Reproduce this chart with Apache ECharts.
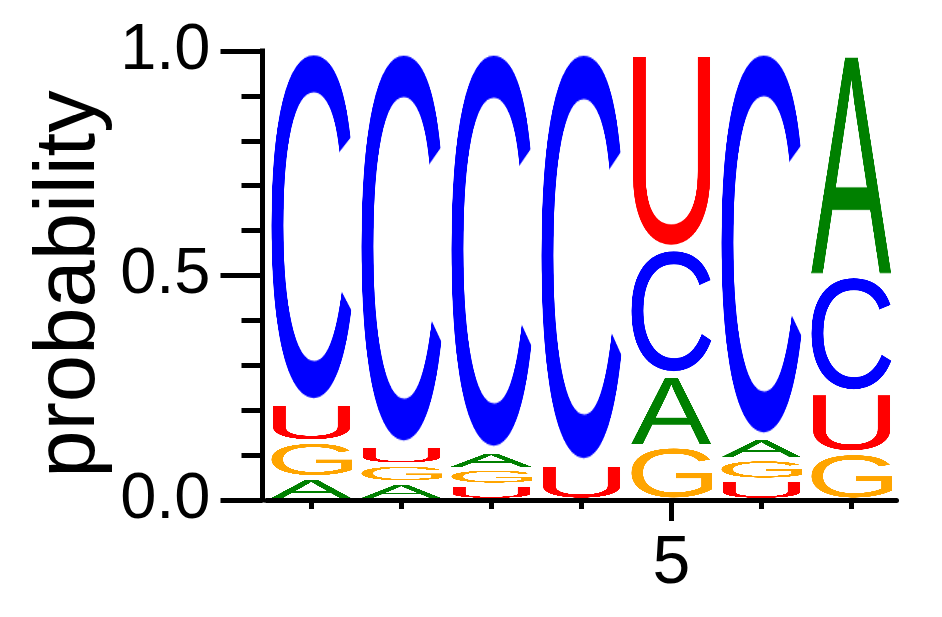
<!DOCTYPE html>
<html>
<head>
<meta charset="utf-8">
<script src="https://cdn.jsdelivr.net/npm/echarts@6/dist/echarts.min.js"></script>
<style>
  html, body { margin: 0; padding: 0; background: #fff; }
  #chart { width: 942px; height: 617px; }
</style>
</head>
<body>
<div id="chart"></div>
<script>
// sequence positions and per-letter probabilities
const positions = [1, 2, 3, 4, 5, 6, 7];
const probA = [0.050, 0.039, 0.038, 0.000, 0.160, 0.047, 0.500];
const probC = [0.785, 0.880, 0.892, 0.920, 0.280, 0.862, 0.260];
const probG = [0.080, 0.040, 0.036, 0.000, 0.120, 0.046, 0.105];
const probU = [0.085, 0.041, 0.034, 0.080, 0.440, 0.045, 0.135];
const letters = ['A', 'C', 'G', 'U'];
const letterColors = ['#008000', '#0000ff', '#ffa500', '#ff0000'];
const yTickLabels = [0, 0.5, 1];
const xTickValues = [1, 2, 3, 4, 6, 7];
const xLabelValues = [5];

const FONT = '"Liberation Sans", Arial, sans-serif';

// letter glyph cropped to its ink box, so it can be stretched to fill a cell
function makeGlyph(ch, color) {
  const size = 400;
  const c = document.createElement('canvas');
  let ctx = c.getContext('2d');
  ctx.font = size + 'px ' + FONT;
  const m = ctx.measureText(ch);
  c.width = Math.ceil(m.actualBoundingBoxLeft + m.actualBoundingBoxRight);
  c.height = Math.ceil(m.actualBoundingBoxAscent + m.actualBoundingBoxDescent);
  ctx = c.getContext('2d');
  ctx.font = size + 'px ' + FONT;
  ctx.fillStyle = color;
  ctx.fillText(ch, m.actualBoundingBoxLeft, m.actualBoundingBoxAscent);
  return c;
}
const glyphs = letters.map((l, i) => makeGlyph(l, letterColors[i]));

// stack letters per position, smallest at the bottom
const probs = [probA, probC, probG, probU];
const stacked = [];
positions.forEach((pos, j) => {
  const order = [0, 1, 2, 3].sort((a, b) => probs[a][j] - probs[b][j]);
  let y = 0;
  order.forEach(k => {
    const v = probs[k][j];
    if (v > 0) stacked.push([pos, y, y + v, k]);
    y += v;
  });
});

const chart = echarts.init(document.getElementById('chart'));

chart.setOption({
  animation: false,
  backgroundColor: '#fff',
  grid: { left: 266.5, right: 45.5, top: 51, bottom: 117 },
  xAxis: [{
    type: 'value', min: 0.5, max: 7.5,
    splitLine: { show: false },
    axisLine: { lineStyle: { color: '#000', width: 5 } },
    axisTick: { customValues: xTickValues, length: 9, lineStyle: { color: '#000', width: 5 } },
    axisLabel: { show: false }
  }, {
    type: 'value', min: 0.5, max: 7.5, position: 'bottom',
    splitLine: { show: false },
    axisLine: { show: false },
    axisTick: { customValues: xLabelValues, length: 21, lineStyle: { color: '#000', width: 5 } },
    axisLabel: {
      customValues: xLabelValues, fontSize: 68, margin: 30,
      color: '#000', fontFamily: FONT
    }
  }],
  yAxis: {
    type: 'value', min: 0, max: 1, interval: 0.5, offset: 4,
    splitLine: { show: false },
    axisLine: { show: true, lineStyle: { color: '#000', width: 5, cap: 'square' } },
    axisTick: { show: true, length: 42, lineStyle: { color: '#000', width: 5 } },
    minorTick: { show: true, splitNumber: 5, length: 21, lineStyle: { color: '#000', width: 5 } },
    axisLabel: {
      fontSize: 65, margin: 52, color: '#000', fontFamily: FONT,
      formatter: v => yTickLabels.indexOf(v) >= 0 ? v.toFixed(1) : ''
    }
  },
  graphic: [{
    type: 'text',
    x: 71, y: 284,
    rotation: Math.PI / 2,
    style: {
      text: 'probability', font: '85px ' + FONT, fill: '#000',
      align: 'center', verticalAlign: 'middle'
    }
  }],
  series: [{
    type: 'custom',
    xAxisIndex: 0,
    data: stacked,
    encode: { x: 0, y: [1, 2] },
    renderItem: function (params, api) {
      const x = api.value(0);
      const bot = api.coord([x - 0.45, api.value(1)]);
      const top = api.coord([x + 0.45, api.value(2)]);
      const inset = 2;
      const h = bot[1] - top[1] - 2 * inset;
      if (h <= 0) return;
      return {
        type: 'image',
        style: {
          image: glyphs[api.value(3)],
          x: bot[0], y: top[1] + inset,
          width: top[0] - bot[0], height: h
        }
      };
    }
  }]
});
</script>
</body>
</html>
